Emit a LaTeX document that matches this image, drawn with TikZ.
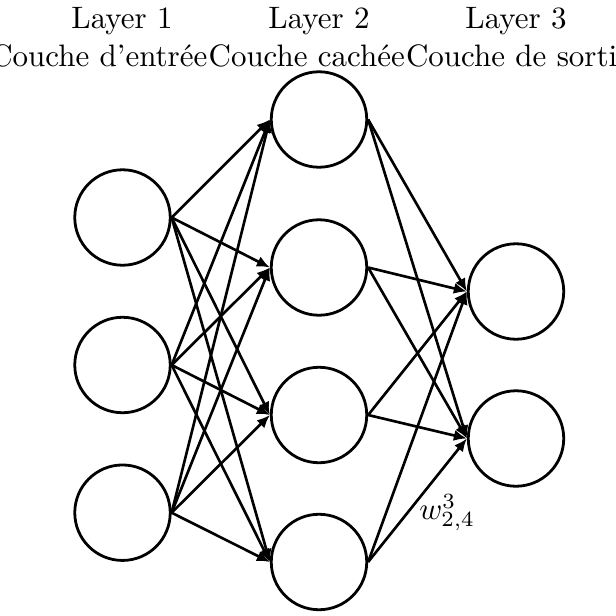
\documentclass[tikz,border=0pt]{standalone}
\usetikzlibrary{arrows.meta}
\begin{document}
\begin{tikzpicture}[x=0.3226pt, y=-0.3226pt,
  neuron/.style={circle, draw, line width=0.9pt, minimum size=30.8pt, inner sep=0pt},
  conn/.style={line width=0.85pt, -{Latex[length=4.2pt,width=3.6pt]}},
  toplabel/.style={inner sep=0pt, font=\fontsize{10}{12}\selectfont}]
\useasboundingbox (0,0) rectangle (616,616);
\clip (0,0) rectangle (616,616);
% layer 1
\node[neuron] (i1) at (122.5,217.5) {};
\node[neuron] (i2) at (122.5,365) {};
\node[neuron] (i3) at (122.5,512.7) {};
% layer 2
\node[neuron] (h1) at (319,119.5) {};
\node[neuron] (h2) at (319,267.5) {};
\node[neuron] (h3) at (319,415) {};
\node[neuron] (h4) at (319,562) {};
% layer 3
\node[neuron] (o1) at (516,291.5) {};
\node[neuron] (o2) at (516,438.5) {};
% connections
\foreach \a in {1,2,3}
  \foreach \b in {1,2,3,4}
    \draw[conn] (i\a.east) -- (h\b.west);
\foreach \a in {1,2,3}
  \foreach \b in {1,2}
    \draw[conn] (h\a.east) -- (o\b.west);
\draw[conn] (h4.east) -- (o1.west);
\draw[conn] (h4.east) -- node[pos=0.4, right] (w) {$w^3_{2,4}$} (o2.west);
% labels
\node[toplabel, anchor=base] (l1) at (122,28.3) {Layer 1};
\node[toplabel, anchor=base] (l2) at (319,28.3) {Layer 2};
\node[toplabel, anchor=base] (l3) at (516,28.3) {Layer 3};
\node[toplabel, anchor=base east] (c1) at (208,66.5) {Couche d'entrée};
\node[toplabel, anchor=base west] (c2) at (c1.base east) {Couche cachée};
\node[toplabel, anchor=base west] (c3) at (c2.base east) {Couche de sortie};
\end{tikzpicture}
\end{document}
